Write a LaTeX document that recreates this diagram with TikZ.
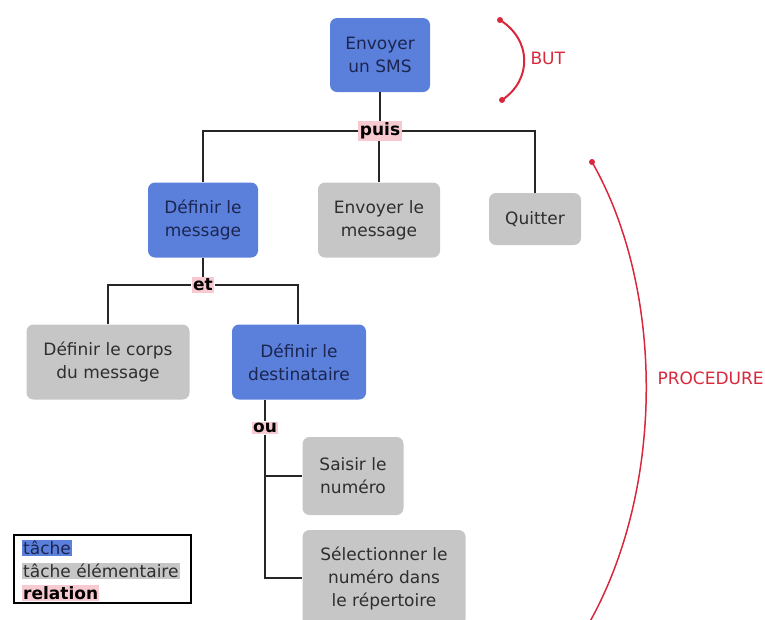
\documentclass[tikz,border=0pt]{standalone}
\usepackage{fontspec}
\setmainfont{DejaVu Sans}
\usetikzlibrary{positioning}
\definecolor{taskblue}{HTML}{5B80DB}
\definecolor{tasktext}{HTML}{1C2550}
\definecolor{elemgray}{HTML}{C6C6C6}
\definecolor{elemtext}{HTML}{2E2E2E}
\definecolor{relpink}{HTML}{F7C9D0}
\definecolor{relred}{HTML}{D8283C}
\begin{document}
\begin{tikzpicture}[x=1pt,y=-1pt,
  task/.style={draw=none,fill=taskblue,rounded corners=7pt,text=tasktext,align=center,font=\fontsize{17}{23}\selectfont,inner sep=0pt},
  elem/.style={draw=none,fill=elemgray,rounded corners=7pt,text=elemtext,align=center,font=\fontsize{17}{23}\selectfont,inner sep=0pt},
  rel/.style={fill=relpink,text=black,font=\bfseries\fontsize{17}{18}\selectfont,inner sep=1.5pt},
  link/.style={draw=black!85,line width=2pt},
  brace/.style={draw=relred,line width=2pt},
  lab/.style={text=relred,font=\fontsize{17}{18}\selectfont},
  legtxt/.style={anchor=west,inner sep=1pt,font=\fontsize{17}{18}\selectfont}]
\useasboundingbox (0,0) rectangle (765,619);
% nodes
\node[task,minimum width=100pt,minimum height=74pt] (sms) at (380,55) {Envoyer\\un SMS};
\node[task,minimum width=110pt,minimum height=75pt] (defmsg) at (203,220) {Définir le\\message};
\node[elem,minimum width=122pt,minimum height=75pt] (envmsg) at (379,220) {Envoyer le\\message};
\node[elem,minimum width=92pt,minimum height=52pt] (quit) at (535,219) {Quitter};
\node[elem,minimum width=163pt,minimum height=75pt] (corps) at (108,362) {Définir le corps\\du message};
\node[task,minimum width=134pt,minimum height=75pt] (dest) at (299,362) {Définir le\\destinataire};
\node[elem,minimum width=101pt,minimum height=78pt] (saisir) at (353,476) {Saisir le\\numéro};
\node[elem,minimum width=163pt,minimum height=96pt] (select) at (384,578) {Sélectionner le\\numéro dans\\le répertoire};
% relations
\node[rel] (puis) at (380,131) {puis};
\node[rel] (et) at (203,285) {et};
\node[rel] (ou) at (265,428) {ou};
% connectors
\draw[link] (sms.south) -- (puis.north);
\draw[link] (puis.west) -| (defmsg.north);
\draw[link] (puis.south -| envmsg.north) -- (envmsg.north);
\draw[link] (puis.east) -| (quit.north);
\draw[link] (defmsg.south) -- (et.north);
\draw[link] (et.west) -| (corps.north);
\draw[link] (et.east) -| (dest.north -| 298,0);
\draw[link] (dest.south -| ou.north) -- (ou.north);
\draw[link] (ou.south) |- (saisir.west);
\draw[link] (ou.south) |- (select.west);
% braces
\coordinate (b1) at (500,20);
\coordinate (b2) at (502,100);
\draw[brace] (b1) .. controls (532,40) and (532,80) .. (b2);
\fill[relred] (b1) circle (3pt) (b2) circle (3pt);
\node[lab,anchor=west] (but) at (527,58) {BUT};
\coordinate (p1) at (592,162);
\coordinate (p2) at (588,625);
\draw[brace,line width=1.5pt] (p1) .. controls (665,290) and (665,490) .. (p2);
\fill[relred] (p1) circle (3pt);
\node[lab,anchor=west] (proc) at (654,378) {PROCEDURE};
% legend
\node[draw=black,line width=1.5pt,minimum width=177pt,minimum height=68pt,inner sep=0pt] (legend) at (102.5,569) {};
\node[legtxt,fill=taskblue,text=tasktext] (l1) at (22,548) {tâche};
\node[legtxt,fill=elemgray,text=elemtext] (l2) at (22,571) {tâche élémentaire};
\node[legtxt,fill=relpink,text=black,font=\bfseries\fontsize{17}{18}\selectfont] (l3) at (22,593) {relation};
\end{tikzpicture}
\end{document}
